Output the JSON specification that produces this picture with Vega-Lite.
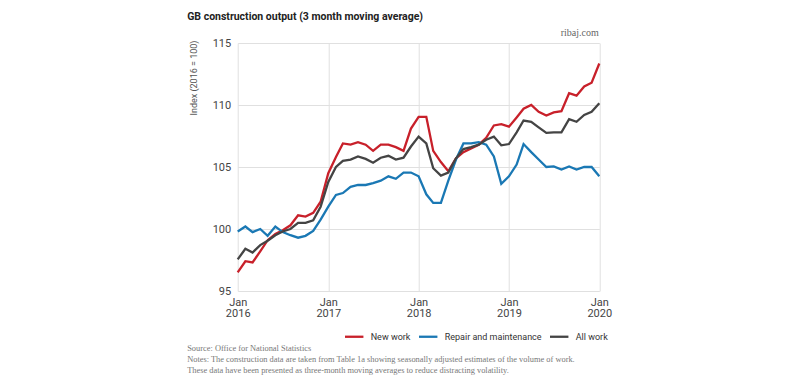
{
  "$schema": "https://vega.github.io/schema/vega-lite/v6.json",
  "width": 361.6,
  "height": 248,
  "autosize": {"type": "none"},
  "padding": {"left": 237.7, "top": 43, "right": 199.7, "bottom": 92},
  "background": "white",
  "config": {"view": {"stroke": null}, "font": "Roboto"},
  "data": {
    "values": [
      {"date": "2016-01-01", "New work": 96.5, "Repair and maintenance": 99.8, "All work": 97.55},
      {"date": "2016-02-01", "New work": 97.4, "Repair and maintenance": 100.2, "All work": 98.4},
      {"date": "2016-03-01", "New work": 97.3, "Repair and maintenance": 99.75, "All work": 98.1},
      {"date": "2016-04-01", "New work": 98.2, "Repair and maintenance": 100.0, "All work": 98.7},
      {"date": "2016-05-01", "New work": 99.1, "Repair and maintenance": 99.45, "All work": 99.05},
      {"date": "2016-06-01", "New work": 99.6, "Repair and maintenance": 100.2, "All work": 99.5},
      {"date": "2016-07-01", "New work": 99.9, "Repair and maintenance": 99.75, "All work": 99.8},
      {"date": "2016-08-01", "New work": 100.3, "Repair and maintenance": 99.5, "All work": 100.0},
      {"date": "2016-09-01", "New work": 101.1, "Repair and maintenance": 99.3, "All work": 100.5},
      {"date": "2016-10-01", "New work": 101.0, "Repair and maintenance": 99.45, "All work": 100.5},
      {"date": "2016-11-01", "New work": 101.3, "Repair and maintenance": 99.85, "All work": 100.7},
      {"date": "2016-12-01", "New work": 102.2, "Repair and maintenance": 100.75, "All work": 101.8},
      {"date": "2017-01-01", "New work": 104.5, "Repair and maintenance": 101.8, "All work": 103.8},
      {"date": "2017-02-01", "New work": 105.8, "Repair and maintenance": 102.75, "All work": 105.0},
      {"date": "2017-03-01", "New work": 106.9, "Repair and maintenance": 102.9, "All work": 105.5},
      {"date": "2017-04-01", "New work": 106.8, "Repair and maintenance": 103.4, "All work": 105.6},
      {"date": "2017-05-01", "New work": 107.0, "Repair and maintenance": 103.55, "All work": 105.85},
      {"date": "2017-06-01", "New work": 106.8, "Repair and maintenance": 103.55, "All work": 105.65},
      {"date": "2017-07-01", "New work": 106.3, "Repair and maintenance": 103.7, "All work": 105.35},
      {"date": "2017-08-01", "New work": 106.8, "Repair and maintenance": 103.9, "All work": 105.75},
      {"date": "2017-09-01", "New work": 106.8, "Repair and maintenance": 104.25, "All work": 105.9},
      {"date": "2017-10-01", "New work": 106.6, "Repair and maintenance": 104.05, "All work": 105.6},
      {"date": "2017-11-01", "New work": 106.3, "Repair and maintenance": 104.55, "All work": 105.75},
      {"date": "2017-12-01", "New work": 108.1, "Repair and maintenance": 104.55, "All work": 106.65},
      {"date": "2018-01-01", "New work": 109.05, "Repair and maintenance": 104.25, "All work": 107.45},
      {"date": "2018-02-01", "New work": 109.05, "Repair and maintenance": 102.8, "All work": 106.9},
      {"date": "2018-03-01", "New work": 106.3, "Repair and maintenance": 102.1, "All work": 104.9},
      {"date": "2018-04-01", "New work": 105.4, "Repair and maintenance": 102.1, "All work": 104.3},
      {"date": "2018-05-01", "New work": 104.65, "Repair and maintenance": 103.9, "All work": 104.55},
      {"date": "2018-06-01", "New work": 105.7, "Repair and maintenance": 105.6, "All work": 105.7},
      {"date": "2018-07-01", "New work": 106.2, "Repair and maintenance": 106.9, "All work": 106.45},
      {"date": "2018-08-01", "New work": 106.5, "Repair and maintenance": 106.9, "All work": 106.6},
      {"date": "2018-09-01", "New work": 106.8, "Repair and maintenance": 107.0, "All work": 106.8},
      {"date": "2018-10-01", "New work": 107.35, "Repair and maintenance": 106.8, "All work": 107.2},
      {"date": "2018-11-01", "New work": 108.35, "Repair and maintenance": 105.85, "All work": 107.45},
      {"date": "2018-12-01", "New work": 108.45, "Repair and maintenance": 103.65, "All work": 106.75},
      {"date": "2019-01-01", "New work": 108.25, "Repair and maintenance": 104.25, "All work": 106.85},
      {"date": "2019-02-01", "New work": 109.0, "Repair and maintenance": 105.2, "All work": 107.8},
      {"date": "2019-03-01", "New work": 109.7, "Repair and maintenance": 106.85, "All work": 108.75},
      {"date": "2019-04-01", "New work": 110.0, "Repair and maintenance": 106.2, "All work": 108.65},
      {"date": "2019-05-01", "New work": 109.45, "Repair and maintenance": 105.6, "All work": 108.2},
      {"date": "2019-06-01", "New work": 109.15, "Repair and maintenance": 105.0, "All work": 107.75},
      {"date": "2019-07-01", "New work": 109.4, "Repair and maintenance": 105.05, "All work": 107.8},
      {"date": "2019-08-01", "New work": 109.5, "Repair and maintenance": 104.8, "All work": 107.8},
      {"date": "2019-09-01", "New work": 110.95, "Repair and maintenance": 105.05, "All work": 108.85},
      {"date": "2019-10-01", "New work": 110.75, "Repair and maintenance": 104.8, "All work": 108.65},
      {"date": "2019-11-01", "New work": 111.5, "Repair and maintenance": 105.0, "All work": 109.2},
      {"date": "2019-12-01", "New work": 111.8, "Repair and maintenance": 105.0, "All work": 109.45},
      {"date": "2020-01-01", "New work": 113.35, "Repair and maintenance": 104.25, "All work": 110.15}
    ]
  },
  "transform": [
    {"fold": ["New work", "Repair and maintenance", "All work"], "as": ["series", "value"]}
  ],
  "layer": [
    {
      "mark": {"type": "line"},
      "encoding": {
        "x": {
          "field": "date",
          "type": "temporal",
          "scale": {
            "type": "utc",
            "domain": [
              {"year": 2016, "month": 1, "date": 1, "utc": true},
              {"year": 2020, "month": 1, "date": 1, "utc": true}
            ]
          },
          "axis": {
            "orient": "bottom",
            "values": [
              {"year": 2016, "month": 1, "date": 1, "utc": true},
              {"year": 2017, "month": 1, "date": 1, "utc": true},
              {"year": 2018, "month": 1, "date": 1, "utc": true},
              {"year": 2019, "month": 1, "date": 1, "utc": true},
              {"year": 2020, "month": 1, "date": 1, "utc": true}
            ],
            "labelExpr": "[utcFormat(datum.value, '%b'), utcFormat(datum.value, '%Y')]",
            "labelFontSize": 11,
            "labelColor": "#444",
            "labelPadding": 5,
            "labelLineHeight": 11.5,
            "labelFlush": false,
            "labelOverlap": false,
            "ticks": false,
            "domain": false,
            "grid": true,
            "gridColor": "#e0e0e0",
            "title": [
              "Source: Office for National Statistics",
              "Notes: The construction data are taken from Table 1a showing seasonally adjusted estimates of the volume of work.",
              "These data have been presented as three-month moving averages to reduce distracting volatility."
            ],
            "titleAnchor": "start",
            "titleAlign": "left",
            "titleX": -51,
            "titleY": 59,
            "titleBaseline": "alphabetic",
            "titleFont": "Liberation Serif",
            "titleFontSize": 8.4,
            "titleFontWeight": "normal",
            "titleColor": "#777",
            "titleLineHeight": 11
          }
        },
        "y": {
          "field": "value",
          "type": "quantitative",
          "scale": {"domain": [95, 115], "zero": false, "nice": false},
          "axis": {
            "values": [95, 100, 105, 110, 115],
            "ticks": false,
            "domain": false,
            "grid": true,
            "gridColor": "#e0e0e0",
            "labelFontSize": 11,
            "labelColor": "#444",
            "labelPadding": 7,
            "title": "Index (2016 = 100)",
            "titleFontSize": 9,
            "titleFontWeight": "normal",
            "titleColor": "#555",
            "titleAngle": 270,
            "titleAlign": "right",
            "titleBaseline": "middle",
            "titleX": -44,
            "titleY": -3
          }
        },
        "color": {
          "field": "series",
          "type": "nominal",
          "scale": {
            "domain": ["New work", "Repair and maintenance", "All work"],
            "range": ["#c8202a", "#1a78b4", "#444444"]
          },
          "legend": {
            "orient": "none",
            "legendX": 106,
            "legendY": 283,
            "direction": "horizontal",
            "title": null,
            "symbolType": "stroke",
            "symbolStrokeWidth": 2.5,
            "symbolSize": 340,
            "labelFontSize": 9,
            "labelColor": "#333",
            "labelOffset": 6,
            "columnPadding": 3
          }
        },
        "strokeWidth": {
          "field": "series",
          "type": "nominal",
          "scale": {
            "domain": ["New work", "Repair and maintenance", "All work"],
            "range": [2.3, 2.3, 1.5]
          },
          "legend": null
        }
      }
    },
    {
      "mark": {"type": "point", "opacity": 0},
      "encoding": {
        "x": {
          "field": "date",
          "type": "temporal",
          "axis": {
            "orient": "top",
            "labels": false,
            "ticks": false,
            "domain": false,
            "grid": false,
            "title": "GB construction output (3 month moving average)",
            "titleAnchor": "start",
            "titleAlign": "left",
            "titleX": -51,
            "titleY": -24,
            "titleBaseline": "alphabetic",
            "titleFontSize": 10.5,
            "titleFontWeight": "bold",
            "titleColor": "#222"
          }
        },
        "y": {
          "field": "value",
          "type": "quantitative",
          "axis": {
            "orient": "right",
            "labels": false,
            "ticks": false,
            "domain": false,
            "grid": false,
            "title": "ribaj.com",
            "titleAngle": 0,
            "titleAlign": "right",
            "titleBaseline": "alphabetic",
            "titleX": -1,
            "titleY": -8,
            "titleFont": "Liberation Serif",
            "titleFontSize": 10,
            "titleFontWeight": "normal",
            "titleColor": "#666"
          }
        }
      }
    }
  ],
  "resolve": {"axis": {"x": "independent", "y": "independent"}}
}
